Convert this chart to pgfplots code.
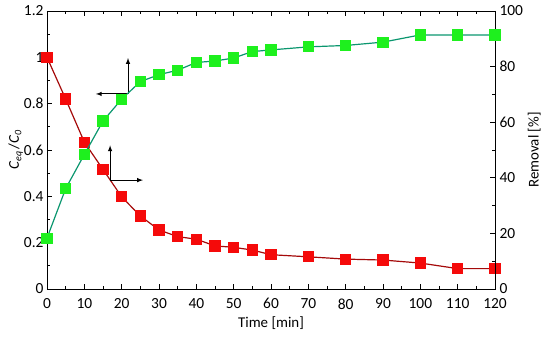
\documentclass[border=0pt]{standalone}
\usepackage{pgfplots}
\pgfplotsset{compat=1.18}
\usepackage{fontspec}
\setmainfont{Carlito}
\usetikzlibrary{calc}
\definecolor{redfill}{RGB}{245,10,10}
\definecolor{redline}{RGB}{165,10,10}
\definecolor{greenfill}{RGB}{30,240,30}
\definecolor{greenline}{RGB}{10,150,110}
\begin{document}
\begin{tikzpicture}
\pgfplotsset{
  every axis/.append style={
    scale only axis, width=448bp, height=278bp,
    xmin=0, xmax=120,
    tick label style={font=\fontsize{15.5}{17}\selectfont},
    label style={font=\fontsize{15}{17}\selectfont},
    /pgf/number format/assume math mode=true,
    tick style={black, line width=0.8pt},
    major tick length=5bp, minor tick length=3bp,
    tick align=inside,
    axis line style={line width=1pt},
  }
}
\begin{axis}[
  name=ax,
  ymin=0, ymax=1.2,
  xtick={0,10,...,120}, minor x tick num=1,
  ytick={0,0.2,...,1.2}, minor y tick num=1,
  yticklabels={0,0.2,0.4,0.6,0.8,1,1.2},
  xtick pos=both, ytick pos=left,
  xticklabel style={yshift=-6bp},
  xlabel={Time [min]},
  ylabel={\fontsize{15}{17}\selectfont\textit{C}\raisebox{-0.35ex}{\fontsize{10}{11}\selectfont\textit{eq}}\,/\textit{C}\raisebox{-0.35ex}{\fontsize{10}{11}\selectfont\textit{0}}},
  ylabel style={yshift=-6bp},
  xlabel style={yshift=-1bp},
]
\addplot[redline, line width=1.2pt, mark=square*, mark size=5bp,
  mark options={fill=redfill, draw=redfill}] coordinates {
(0,1.0) (5,0.82) (10,0.634) (15,0.516) (20,0.398) (25,0.315) (30,0.255)
(35,0.226) (40,0.215) (45,0.186) (50,0.18) (55,0.168) (60,0.148)
(70,0.139) (80,0.129) (90,0.125) (100,0.112) (110,0.088) (120,0.088)
};
\draw[-latex, line width=1pt] (axis cs:21.7,0.842) -- (axis cs:13.1,0.842);
\draw[-latex, line width=1pt] (axis cs:21.7,0.842) -- (axis cs:21.7,0.997);
\draw[-latex, line width=1pt] (axis cs:16.9,0.47) -- (axis cs:16.9,0.62);
\draw[-latex, line width=1pt] (axis cs:16.9,0.47) -- (axis cs:25.7,0.47);
\end{axis}
\begin{axis}[
  ymin=0, ymax=100,
  axis x line=none,
  axis y line*=right,
  ytick={0,20,...,100}, minor y tick num=1,
  yticklabel style={xshift=1bp},
  ylabel={Removal [\%]},
  ylabel style={yshift=2bp},
]
\addplot[greenline, line width=1.2pt, mark=square*, mark size=5bp,
  mark options={fill=greenfill, draw=greenfill}] coordinates {
(0,18.3) (5,36.1) (10,48.4) (15,60.4) (20,68.3) (25,74.6) (30,77.1)
(35,78.7) (40,81.5) (45,82.0) (50,83.1) (55,85.4) (60,86.0)
(70,87.1) (80,87.6) (90,88.8) (100,91.4) (110,91.4) (120,91.4)
};
\end{axis}
\pgfresetboundingbox
\useasboundingbox ($(ax.south west)+(-47bp,-49bp)$) rectangle ($(ax.north east)+(55bp,11bp)$);
\end{tikzpicture}
\end{document}
